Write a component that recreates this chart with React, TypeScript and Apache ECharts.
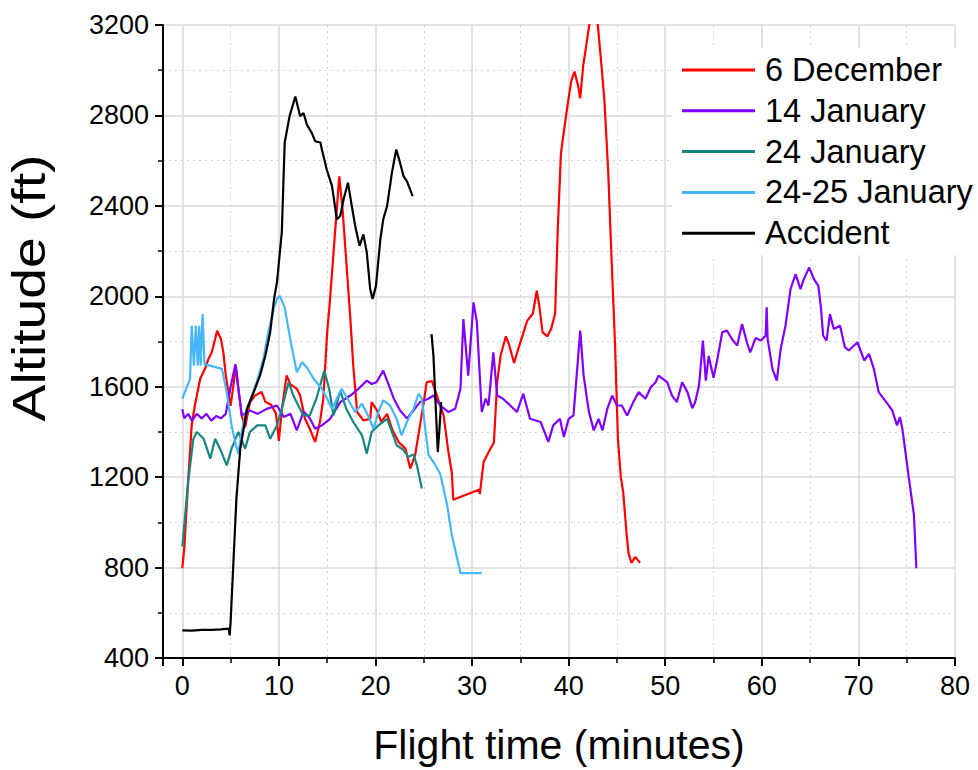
import React, { useEffect, useRef } from "react";
import * as echarts from "echarts";

const seriesNames = ["6 December", "14 January", "24 January", "24-25 January", "Accident"];
const seriesColors = ["#ff0000", "#8000ff", "#16877f", "#45b6fb", "#000000"];
const xTitle = "Flight time (minutes)";
const yTitle = "Altitude (ft)";

const dec6: (number | null)[][] = [
  [0, 797], [0.2, 885], [0.6, 1180], [0.97, 1429], [1.3, 1517], [1.85, 1635], [2.35, 1679], [2.7, 1723],
  [3.05, 1752], [3.4, 1811], [3.6, 1848], [4.0, 1811], [4.25, 1752], [4.5, 1650], [4.8, 1565], [5.0, 1515],
  [5.55, 1690], [5.8, 1590], [6.15, 1473], [6.5, 1420], [7.0, 1530], [7.5, 1560], [8.2, 1577], [8.6, 1533],
  [9.2, 1520], [9.7, 1480], [10.0, 1360], [10.3, 1500], [10.8, 1650], [11.2, 1610], [11.85, 1591], [12.2, 1561],
  [12.7, 1458], [13.2, 1414], [13.75, 1355], [14.25, 1444], [14.6, 1547], [15.0, 1842], [15.3, 1990],
  [16.25, 2531], [16.6, 2380], [17.4, 1900], [17.7, 1693], [18.1, 1488], [18.75, 1451], [19.45, 1458],
  [19.6, 1532], [20.15, 1495], [20.6, 1444], [21.2, 1480], [21.7, 1414], [22.4, 1355], [23.1, 1326],
  [23.6, 1238], [24.1, 1297], [24.5, 1400], [25.0, 1532], [25.3, 1620], [25.85, 1625], [26.35, 1561],
  [27.05, 1473], [27.55, 1311], [27.9, 1223], [28.05, 1100], [30.77, 1145], [30.8, 1125], [31.2, 1268],
  [31.9, 1326], [32.26, 1352], [32.6, 1621], [32.96, 1739], [33.5, 1823], [33.8, 1790], [34.35, 1705],
  [34.7, 1756], [35.2, 1823], [35.7, 1891], [36.3, 1924], [36.7, 2025], [36.96, 1958], [37.3, 1840],
  [37.8, 1823], [38.2, 1857], [38.6, 1924], [38.87, 2295], [39.2, 2632], [39.57, 2749], [39.9, 2850],
  [40.26, 2951], [40.6, 2994], [40.96, 2935], [41.2, 2876], [41.5, 3019], [41.8, 3103], [42.2, 3220],
  [42.6, 3300], [43.0, 3210], [43.4, 3019], [43.7, 2867], [44.1, 2547], [44.4, 2211], [44.8, 1790],
  [45.1, 1369], [45.4, 1200], [45.65, 1133], [46.0, 948], [46.2, 863], [46.5, 821], [46.9, 847], [47.4, 821],
];

const jan14: (number | null)[][] = [
  [0, 1500], [0.2, 1460], [0.6, 1480], [1.0, 1450], [1.5, 1480], [2.0, 1460], [2.5, 1480], [3.0, 1450],
  [3.5, 1470], [4.0, 1460], [4.5, 1480], [5.0, 1600], [5.5, 1700], [6.15, 1473], [7.0, 1495], [7.8, 1480],
  [8.75, 1502], [9.8, 1517], [10.5, 1466], [11.2, 1480], [11.85, 1407], [12.55, 1490], [13.2, 1460],
  [13.75, 1414], [14.45, 1429], [15.3, 1458], [16.35, 1532], [17.4, 1561], [18.25, 1591], [19.1, 1627],
  [19.6, 1612], [20.1, 1620], [20.8, 1671], [21.2, 1627], [21.9, 1547], [22.55, 1495], [23.25, 1460],
  [23.95, 1495], [24.6, 1532], [25.5, 1547], [26.0, 1561], [26.7, 1517], [27.55, 1488], [28.25, 1502],
  [28.8, 1591], [29.1, 1899], [29.6, 1649], [30.15, 1973], [30.5, 1885], [31.0, 1488], [31.4, 1547],
  [31.7, 1517], [32.2, 1752], [32.6, 1561], [33.2, 1547], [33.95, 1517], [34.65, 1488], [35.3, 1569],
  [36.0, 1458], [37.1, 1444], [37.9, 1356], [38.4, 1429], [39.1, 1458], [39.5, 1378], [40.0, 1458],
  [40.5, 1473], [41.2, 1848], [41.55, 1649], [42.1, 1488], [42.6, 1407], [43.1, 1458], [43.5, 1407],
  [44.0, 1502], [44.5, 1561], [45.0, 1517], [45.5, 1517], [46.05, 1473], [46.7, 1532], [47.25, 1576],
  [47.95, 1547], [48.5, 1598], [49.0, 1620], [49.3, 1649], [50.2, 1620], [50.7, 1561], [51.2, 1532],
  [51.75, 1620], [52.3, 1576], [52.8, 1505], [53.1, 1532], [53.5, 1605], [53.9, 1804], [54.2, 1627],
  [54.5, 1736], [55.0, 1640], [55.4, 1723], [55.9, 1841], [56.4, 1848], [56.9, 1811], [57.45, 1782],
  [57.95, 1877], [58.5, 1790], [58.8, 1752], [59.35, 1815], [59.9, 1804], [60.4, 1826], [60.5, 1951],
  [60.6, 1811], [61.1, 1679], [61.55, 1627], [61.95, 1767], [62.45, 1870], [62.97, 2032], [63.5, 2098],
  [64.0, 2032], [64.35, 2076], [64.9, 2127], [65.4, 2076], [65.85, 2046], [66.1, 1958], [66.35, 1826],
  [66.7, 1804], [67.05, 1921], [67.45, 1855], [68.1, 1870], [68.6, 1775], [69.0, 1760], [69.9, 1797],
  [70.6, 1716], [71.1, 1745], [71.6, 1679], [72.1, 1576], [73.0, 1525], [73.5, 1495], [74.0, 1429],
  [74.3, 1466], [74.55, 1414], [75.05, 1252], [75.75, 1032], [76.0, 797],
];

const jan24: (number | null)[][] = [
  [0, 893], [0.6, 1179], [1.15, 1370], [1.5, 1400], [2.2, 1370], [2.9, 1282], [3.4, 1370], [3.9, 1326],
  [4.6, 1252], [5.1, 1326], [5.8, 1400], [6.5, 1326], [7.0, 1400], [7.75, 1429], [8.6, 1429], [9.1, 1370],
  [9.8, 1429], [10.3, 1502], [11.0, 1620], [11.5, 1561], [12.0, 1517], [12.55, 1473], [13.2, 1473],
  [13.9, 1550], [14.7, 1671], [15.2, 1591], [15.65, 1473], [16.35, 1580], [17.0, 1500], [17.7, 1444],
  [18.6, 1385], [19.1, 1304], [19.6, 1400], [20.3, 1429], [21.2, 1458], [21.7, 1400], [22.2, 1341],
  [22.9, 1320], [23.4, 1290], [23.95, 1300], [24.3, 1250], [24.8, 1150],
];

const jan2425: (number | null)[][] = [
  [0, 1547], [0.8, 1635], [0.97, 1870], [1.2, 1693], [1.4, 1870], [1.6, 1693], [1.75, 1870], [1.9, 1693],
  [2.1, 1921], [2.3, 1700], [4.1, 1679], [4.6, 1576], [5.1, 1429], [5.55, 1341], [5.8, 1304], [6.15, 1400],
  [6.65, 1502], [7.2, 1561], [7.7, 1620], [8.4, 1723], [8.9, 1841], [9.45, 1943], [9.8, 1988], [10.1, 2002],
  [10.6, 1950], [11.3, 1782], [11.85, 1664], [12.4, 1708], [12.9, 1685], [13.6, 1635], [14.45, 1591],
  [15.0, 1547], [15.5, 1502], [16.0, 1547], [16.5, 1591], [17.2, 1540], [17.9, 1488], [18.6, 1525],
  [19.3, 1466], [19.8, 1414], [20.3, 1488], [20.8, 1540], [21.5, 1517], [22.2, 1458], [22.7, 1385],
  [23.25, 1444], [23.95, 1502], [24.45, 1569], [24.8, 1547], [25.15, 1414], [25.5, 1297], [26.0, 1267],
  [26.7, 1215], [27.4, 1080], [27.9, 944], [28.45, 841], [28.8, 775], [31.0, 775],
];

const accident: (number | null)[][] = [
  [0, 522], [1, 521], [2, 524], [3, 524], [4, 527], [4.8, 530], [4.9, 500], [5.0, 560], [5.6, 1105],
  [6.0, 1326], [6.7, 1502], [7.4, 1577], [8.05, 1650], [8.6, 1738], [9.1, 1842], [9.5, 1988], [9.8, 2062],
  [10.3, 2283], [10.6, 2680], [11.1, 2796], [11.7, 2884], [12.2, 2796], [12.55, 2811], [12.9, 2759],
  [13.4, 2723], [13.75, 2686], [14.3, 2680], [14.45, 2649], [14.95, 2561], [15.5, 2487], [16.0, 2340],
  [16.35, 2355], [16.7, 2429], [17.15, 2502], [17.55, 2399], [17.9, 2311], [18.35, 2223], [18.75, 2274],
  [19.1, 2193], [19.45, 2032], [19.7, 1988], [20.05, 2046], [20.5, 2250], [20.8, 2340], [21.2, 2399],
  [21.7, 2546], [22.15, 2649], [22.55, 2590], [22.9, 2531], [23.25, 2509], [23.85, 2443],
  [24.8, null],
  [25.8, 1833], [26.0, 1738], [26.2, 1547], [26.45, 1311], [26.6, 1400], [26.8, 1532],
];

const seriesData = [dec6, jan14, jan24, jan2425, accident];

const FONT = "'Liberation Sans', Arial, sans-serif";

export default function App() {
  const ref = useRef<HTMLDivElement>(null);
  useEffect(() => {
    if (!ref.current) return;
    const chart = echarts.init(ref.current, undefined, { renderer: "svg" });
    chart.setOption({
      animation: false,
      backgroundColor: "#ffffff",
      grid: { left: 163, right: 23, top: 25, bottom: 110, containLabel: false },
      graphic: [
        {
          type: "text",
          x: 29,
          y: 288,
          rotation: Math.PI / 2,
          scaleX: 1.2,
          scaleY: 1,
          style: {
            text: yTitle,
            fill: "#000",
            font: "46px 'Liberation Sans', Arial, sans-serif",
            textAlign: "center",
            textVerticalAlign: "middle",
          },
        },
      ],
      legend: {
        orient: "vertical",
        left: 672,
        top: 48,
        data: seriesNames,
        icon: "rect",
        itemWidth: 73,
        itemHeight: 3,
        itemGap: 6.8,
        backgroundColor: "#ffffff",
        padding: [5, 10, 5, 10],
        textStyle: { fontSize: 32.5, lineHeight: 34, color: "#000", fontFamily: FONT, padding: [0, 0, 0, 5] },
      },
      xAxis: {
        type: "value",
        min: -2,
        max: 80,
        splitNumber: 8,
        name: xTitle,
        nameLocation: "middle",
        nameGap: 66,
        nameTextStyle: { fontSize: 41, color: "#000", fontFamily: FONT },
        axisLine: { onZero: false, lineStyle: { color: "#000", width: 2 } },
        axisTick: { show: true, length: 8, lineStyle: { color: "#000", width: 2 } },
        minorTick: { show: true, splitNumber: 2, length: 5, lineStyle: { color: "#000", width: 1.5 } },
        axisLabel: {
          fontSize: 27,
          color: "#000",
          fontFamily: FONT,
          margin: 14,
          formatter: (v: number) => (v < 0 ? "" : String(v)),
        },
        splitLine: { show: true, lineStyle: { color: "#d9d9d9", width: 1.5 } },
        minorSplitLine: { show: true, lineStyle: { color: "#cfcfcf", width: 1, type: [2, 4] } },
      },
      yAxis: {
        type: "value",
        min: 400,
        max: 3200,
        interval: 400,
        axisLine: { show: true, onZero: false, lineStyle: { color: "#000", width: 2 } },
        axisTick: { show: true, length: 8, lineStyle: { color: "#000", width: 2 } },
        minorTick: { show: true, splitNumber: 2, length: 5, lineStyle: { color: "#000", width: 1.5 } },
        axisLabel: { fontSize: 27, color: "#000", fontFamily: FONT, margin: 14, formatter: (v: number) => String(v) },
        splitLine: { show: true, lineStyle: { color: "#d9d9d9", width: 1.5 } },
        minorSplitLine: { show: true, lineStyle: { color: "#cfcfcf", width: 1, type: [2, 4] } },
      },
      series: seriesNames.map((name, i) => ({
        name,
        type: "line",
        data: seriesData[i],
        showSymbol: false,
        symbol: "none",
        connectNulls: false,
        clip: true,
        color: seriesColors[i],
        lineStyle: { color: seriesColors[i], width: 2.2 },
        z: i === 4 ? 5 : 2 + i * 0.1,
      })),
    });
    return () => chart.dispose();
  }, []);
  return <div ref={ref} style={{ position: "fixed", left: 0, top: 0, width: 978, height: 770 }} />;
}
